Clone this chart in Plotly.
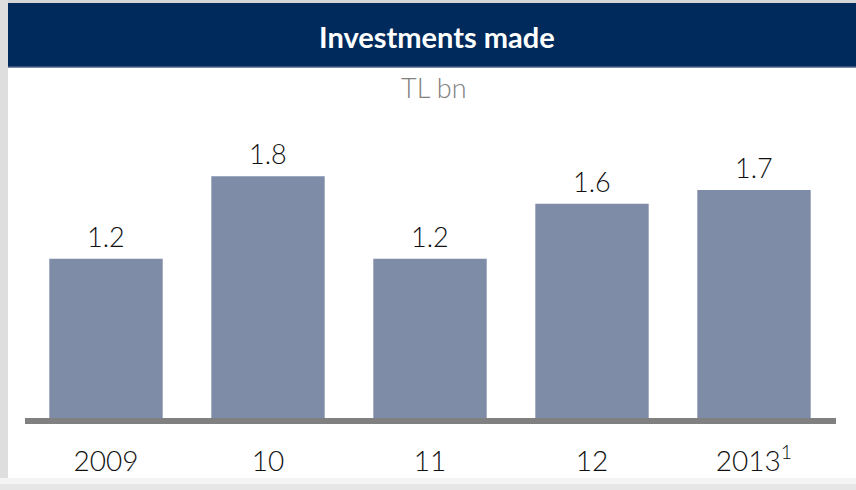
import plotly.graph_objects as go

# Investments made, TL bn
years = ["2009", "10", "11", "12", "2013<sup>1</sup>"]
investments = [1.2, 1.8, 1.2, 1.6, 1.7]

W, H = 856, 490
NAVY = "#002a5c"
BAR = "#7f8ca8"
FONT = "Lato"

x_pos = list(range(len(years)))

fig = go.Figure(
    go.Bar(
        x=x_pos,
        y=investments,
        marker=dict(color=BAR, line=dict(width=0)),
        hoverinfo="skip",
    )
)

# value labels above each bar
for xi, v in zip(x_pos, investments):
    fig.add_annotation(
        x=xi, y=v, xref="x", yref="y",
        text=f"{v:.1f}", showarrow=False,
        yanchor="bottom", yshift=4,
        font=dict(family=FONT, size=27, color="#111111", weight=300),
    )

px_per_unit = 137.7
plot_top, plot_bottom = 67, 424

shapes = [
    # light grey frame strips
    dict(type="rect", xref="paper", yref="paper", x0=0, x1=1, y0=1 - 3 / H, y1=1,
         fillcolor="#d6d6d6", line=dict(width=0), layer="below"),
    dict(type="rect", xref="paper", yref="paper", x0=0, x1=8 / W, y0=0, y1=1,
         fillcolor="#dedede", line=dict(width=0), layer="below"),
    dict(type="rect", xref="paper", yref="paper", x0=0, x1=1, y0=0, y1=6 / H,
         fillcolor="#e6e6e6", line=dict(width=0), layer="below"),
    dict(type="rect", xref="paper", yref="paper", x0=0, x1=1, y0=6 / H, y1=12 / H,
         fillcolor="#f4f4f4", line=dict(width=0), layer="below"),
    # navy header band
    dict(type="rect", xref="paper", yref="paper", x0=8 / W, x1=1,
         y0=1 - 67 / H, y1=1 - 3 / H,
         fillcolor=NAVY, line=dict(width=0), layer="below"),
    dict(type="line", xref="paper", yref="paper", x0=8 / W, x1=1,
         y0=1 - 67 / H, y1=1 - 67 / H,
         line=dict(color="#4b6388", width=1.5), layer="below"),
    # baseline
    dict(type="rect", xref="paper", yref="paper", x0=25 / W, x1=836 / W,
         y0=1 - 424 / H, y1=1 - 418 / H,
         fillcolor="#808080", line=dict(width=0), layer="above"),
]

fig.add_annotation(
    x=436.5 / W, y=1 - 36 / H, xref="paper", yref="paper",
    text="<b>Investments made</b>", showarrow=False,
    xanchor="center", yanchor="middle",
    font=dict(family=FONT, size=29, color="white"),
)
fig.add_annotation(
    x=434.5 / W, y=1 - 88 / H, xref="paper", yref="paper",
    text="TL bn", showarrow=False,
    xanchor="center", yanchor="middle",
    font=dict(family=FONT, size=27, color="#808080", weight=300),
)

fig.update_layout(
    width=W, height=H,
    margin=dict(l=0, r=0, t=0, b=0),
    paper_bgcolor="white", plot_bgcolor="rgba(0,0,0,0)",
    showlegend=False,
    bargap=0.30,
    shapes=shapes,
    xaxis=dict(
        domain=[25 / W, 835 / W],
        range=[-0.5, len(years) - 0.5],
        tickmode="array", tickvals=x_pos, ticktext=years,
        showgrid=False, zeroline=False, showline=False,
        ticks="", ticklabelstandoff=18,
        tickfont=dict(family=FONT, size=28, color="#111111", weight=300),
        fixedrange=True,
    ),
    yaxis=dict(
        domain=[1 - plot_bottom / H, 1 - plot_top / H],
        range=[0, (plot_bottom - plot_top) / px_per_unit],
        visible=False, fixedrange=True,
    ),
)

fig.write_html("out.html")
